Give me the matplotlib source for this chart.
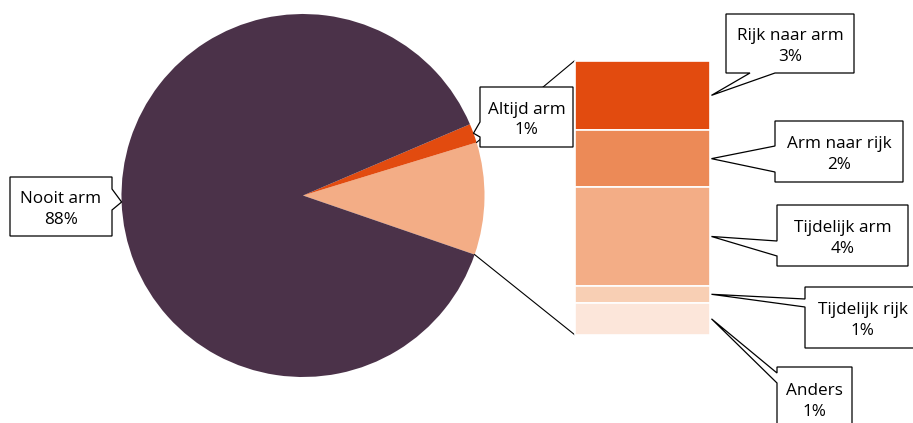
import numpy as np
import matplotlib
matplotlib.use("Agg")
import matplotlib.pyplot as plt
from matplotlib.patches import Polygon

# Pie: main groups (last slice is split out into the bar)
pie_names = ["Nooit arm", "Altijd arm", "Overig"]
pie_values = [88.3, 1.7, 10.0]
pie_pct = ["88%", "1%", ""]
pie_colors = ["#4B3249", "#E24B0F", "#F3AD86"]

# Bar: breakdown of the split-out slice, top to bottom
sub_names = ["Rijk naar arm", "Arm naar rijk", "Tijdelijk arm", "Tijdelijk rijk", "Anders"]
sub_values = [2.53, 2.09, 3.59, 0.63, 1.16]
sub_pct = ["3%", "2%", "4%", "1%", "1%"]
sub_colors = ["#E24B0F", "#EC8A57", "#F3AD86", "#F8CFB4", "#FCE6DA"]

W, H = 913, 423
plt.rcParams['font.family'] = ['Open Sans', 'DejaVu Sans']

fig = plt.figure(figsize=(W / 100, H / 100), dpi=100)
ax = fig.add_axes([0, 0, 1, 1])

''' Pie (y axis is inverted, so angles run the other way) '''
cx, cy, R = 303, 195.5, 181.5
start_vis = -19.0
# split slice first, then Altijd arm, then Nooit arm (visually counter-clockwise)
ax.pie(pie_values[::-1], colors=pie_colors[::-1], radius=R, center=(cx, cy),
       startangle=-start_vis, counterclock=False,
       wedgeprops=dict(linewidth=0), frame=True)
ax.set_xlim(0, W)
ax.set_ylim(H, 0)   # pixel coordinates, y downwards
ax.set_aspect('equal')
ax.axis('off')

def edge_point(ang_vis, r=R):
    a = np.deg2rad(ang_vis)
    return cx + r * np.cos(a), cy - r * np.sin(a)

tot = sum(pie_values)
split_top = start_vis + pie_values[2] / tot * 360
altijd_mid = split_top + pie_values[1] / tot * 180
nooit_mid = split_top + pie_values[1] / tot * 360 + pie_values[0] / tot * 180

''' Stacked bar '''
bx, bw = 642.3, 135.3
btop = 60.7
scale = 27.4  # px per percent
bottoms = btop + np.concatenate([[0], np.cumsum(sub_values)[:-1]]) * scale
ax.bar([bx] * len(sub_values), np.array(sub_values) * scale, width=bw,
       bottom=bottoms, color=sub_colors, edgecolor="white", linewidth=1.2, zorder=2)
bbot = btop + sum(sub_values) * scale

# series lines from pie to bar
p1 = edge_point(split_top)
p2 = edge_point(start_vis)
ax.plot([p1[0], bx - bw / 2], [p1[1], btop], color="black", lw=0.8, zorder=1)
ax.plot([p2[0], bx - bw / 2], [p2[1], bbot], color="black", lw=0.8, zorder=1)

''' Callouts '''
def callout(box, side, base, tip, text):
    x0, y0, x1, y1 = box
    a, b = base
    if side == "left":
        pts = [(x0, y0), (x1, y0), (x1, y1), (x0, y1), (x0, b), tip, (x0, a)]
    elif side == "right":
        pts = [(x0, y0), (x1, y0), (x1, a), tip, (x1, b), (x1, y1), (x0, y1)]
    else:
        pts = [(x0, y0), (x1, y0), (x1, y1), (b, y1), tip, (a, y1), (x0, y1)]
    ax.add_patch(Polygon(pts, closed=True, facecolor="white", edgecolor="black",
                         lw=0.9, zorder=3))
    ax.text((x0 + x1) / 2, (y0 + y1) / 2 + 3, text, ha="center", va="center",
            fontsize=12.3, linespacing=1.35, color="black", zorder=4)

callout((10, 177, 112, 236), "right", (189, 210), edge_point(nooit_mid),
        pie_names[0] + "\n" + pie_pct[0])
callout((480, 87, 573, 147), "left", (122, 137), edge_point(altijd_mid),
        pie_names[1] + "\n" + pie_pct[1])

mids = bottoms + np.array(sub_values) * scale / 2
tipx = bx + bw / 2 + 1.5
boxes = [((726, 14, 854, 73), "bottom", (750, 775)),
         ((775, 121, 903, 182), "left", (146, 172)),
         ((777, 205, 908, 266), "left", (241, 256)),
         ((805, 287, 920, 348), "left", (299, 307)),
         ((777, 367, 852, 430), "left", (373, 383))]
for (box, side, base), name, pct, m in zip(boxes, sub_names, sub_pct, mids):
    callout(box, side, base, (tipx, m), name + "\n" + pct)

plt.savefig("out.png", dpi=100)
